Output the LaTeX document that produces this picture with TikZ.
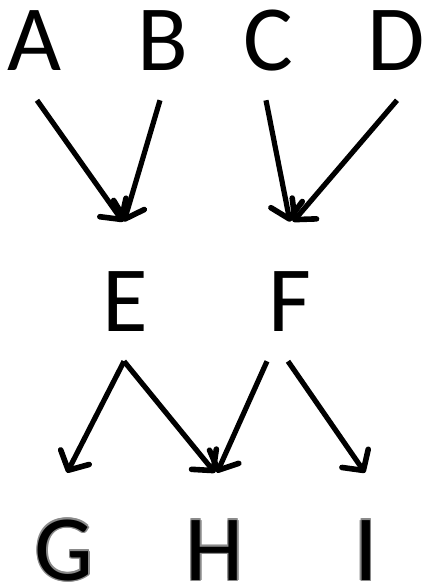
\documentclass[tikz,border=0pt]{standalone}
\usepackage{fontspec}
\setmainfont{Carlito}
\usepackage{tikz}
\usetikzlibrary{calc,arrows.meta}
\definecolor{inkc}{HTML}{000000}
\definecolor{rimc}{HTML}{8A8A8A}
% grey rim round a letter: shifted grey copies under the black one
\newcommand{\rimtext}[1]{%
  \rlap{\textcolor{rimc}{\kern1.1pt#1}}%
  \rlap{\textcolor{rimc}{\kern-1.1pt#1}}%
  \rlap{\textcolor{rimc}{\raisebox{1.1pt}{#1}}}%
  \rlap{\textcolor{rimc}{\raisebox{-1.1pt}{#1}}}%
  \rlap{\textcolor{rimc}{\kern0.8pt\raisebox{0.8pt}{#1}}}%
  \rlap{\textcolor{rimc}{\kern-0.8pt\raisebox{0.8pt}{#1}}}%
  \rlap{\textcolor{rimc}{\kern0.8pt\raisebox{-0.8pt}{#1}}}%
  \rlap{\textcolor{rimc}{\kern-0.8pt\raisebox{-0.8pt}{#1}}}%
  #1}
\tikzset{
  ar/.style={-{Straight Barb[length=11pt,width=24pt,line width=4.2pt,round]},line width=3.9pt,inkc},
  lt/.style={anchor=base,inner sep=0pt,text height=45pt,text depth=0pt,font=\fontsize{70}{84}\selectfont,inkc}
}
\begin{document}
\begin{tikzpicture}[x=0.75pt,y=-0.75pt]
\useasboundingbox (0,0) rectangle (424,585);
\node[lt] (A) at (35,70) {A};
\node[lt] (B) at (163,70) {B};
\node[lt] (C) at (268,70) {C};
\node[lt] (D) at (396,70) {D};
\node[lt] (E) at (125,331) {E};
\node[lt] (F) at (290,331) {F};
\node[lt] (G) at (64,580) {\rimtext{G}};
\node[lt] (H) at (215,580) {\rimtext{H}};
\node[lt] (I) at (366,580) {\rimtext{I}};
% top row into E and F
\draw[ar] ($(A.south)+(2,30)$) -- ($(E.north)+(-2,-49)$);
\draw[ar] ($(B.south)+(-3,30)$) -- ($(E.north)+(-1,-49)$);
\draw[ar] ($(C.south)+(-2,30)$) -- ($(F.north)+(0,-49)$);
\draw[ar] ($(D.south)+(1,30)$) -- ($(F.north)+(3,-49)$);
% E and F into bottom row
\draw[ar] ($(E.south)+(-1,30)$) -- ($(G.north)+(3,-47)$);
\draw[ar] ($(E.south)+(-1,30)$) -- ($(H.north)+(0,-47)$);
\draw[ar] ($(F.south)+(-23,30)$) -- ($(H.north)+(2,-47)$);
\draw[ar] ($(F.south)+(-2,30)$) -- ($(I.north)+(-1,-47)$);
\end{tikzpicture}
\end{document}
